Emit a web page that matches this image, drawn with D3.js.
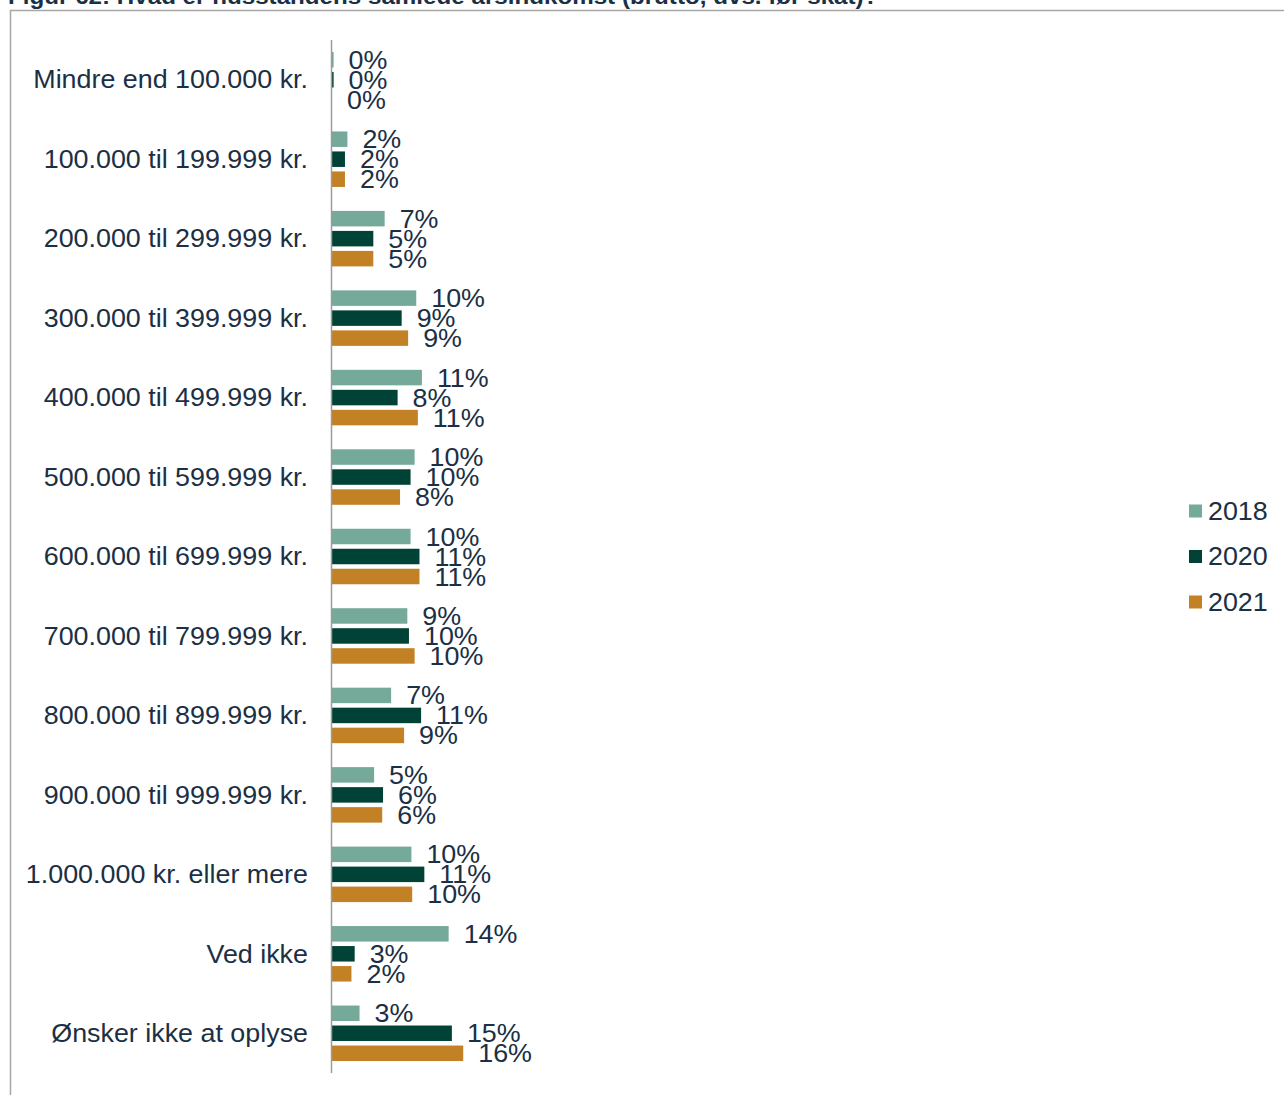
<!DOCTYPE html>
<html>
<head>
<meta charset="utf-8">
<script src="https://cdn.jsdelivr.net/npm/d3@7"></script>
<style>
  body{margin:0;background:#fff;overflow:hidden;}
  svg{display:block;font-family:"Liberation Sans",Arial,sans-serif;}
</style>
</head>
<body>
<div id="chart"></div>
<script>
// data
var categories = ["Mindre end 100.000 kr.","100.000 til 199.999 kr.","200.000 til 299.999 kr.","300.000 til 399.999 kr.","400.000 til 499.999 kr.","500.000 til 599.999 kr.","600.000 til 699.999 kr.","700.000 til 799.999 kr.","800.000 til 899.999 kr.","900.000 til 999.999 kr.","1.000.000 kr. eller mere","Ved ikke","Ønsker ikke at oplyse"];
var years = ["2018","2020","2021"];
var v2018 = [0.2,1.9,6.5,10.4,11.1,10.2,9.7,9.3,7.3,5.2,9.8,14.4,3.4];
var v2020 = [0.2,1.6,5.1,8.6,8.1,9.7,10.8,9.5,11.0,6.3,11.4,2.8,14.8];
var v2021 = [0.0,1.6,5.1,9.4,10.6,8.4,10.8,10.2,8.9,6.2,9.9,2.4,16.2];
var colors = ["#75a99a","#004235","#c38126"];
var title = "Figur 62: Hvad er husstandens samlede årsindkomst (brutto, dvs. før skat)?";

var W = 1284, H = 1095, textCol = "#1b2f45";
var series = [v2018, v2020, v2021];
var sx = 1.075; // teksten er lidt bredere i originalen

var svg = d3.select("#chart").append("svg").attr("width", W).attr("height", H);

function place(x, y){ return "translate(" + x + "," + y + ") scale(" + sx + ",1)"; }

// titel (delvist udenfor billedet)
svg.append("text").attr("transform", place(8, 4))
  .attr("font-size", 22.5).attr("font-weight", "bold").attr("fill", textCol)
  .text(title);

// ramme
svg.append("rect").attr("x", 10.5).attr("y", 10.5).attr("width", 1300).attr("height", 1100)
  .attr("fill", "none").attr("stroke", "#a6a6a6").attr("stroke-width", 1.5);

// skalaer
var y0 = d3.scaleBand().domain(categories).range([40, 1073]);
var y1 = d3.scaleBand().domain(years).range([-30, 30]).paddingInner(0.225).paddingOuter(0.1125);
var x = d3.scaleLinear().domain([0, 100]).range([332, 1142]);

var groups = svg.selectAll("g.cat").data(categories).enter().append("g")
  .attr("class", "cat")
  .attr("transform", function(d){ return "translate(0," + (y0(d) + y0.bandwidth()/2) + ")"; });

groups.append("text")
  .attr("transform", place(308, 0)).attr("dy", "0.35em")
  .attr("text-anchor", "end").attr("font-size", 25).attr("fill", textCol)
  .text(function(d){ return d; });

years.forEach(function(yr, s){
  groups.append("rect")
    .attr("x", x(0))
    .attr("y", y1(yr))
    .attr("width", function(d, i){ return x(series[s][i]) - x(0); })
    .attr("height", y1.bandwidth())
    .attr("fill", colors[s]);
  groups.append("text")
    .attr("transform", function(d, i){ return place(x(series[s][i]) + 15, y1(yr) + y1.bandwidth()/2); })
    .attr("dy", "0.36em")
    .attr("font-size", 25).attr("fill", textCol)
    .text(function(d, i){ return Math.round(series[s][i]) + "%"; });
});

// akse
svg.append("line").attr("x1", 331.5).attr("x2", 331.5).attr("y1", 40).attr("y2", 1073)
  .attr("stroke", "#9c9c9c").attr("stroke-width", 1.5);

// forklaring
var legend = svg.selectAll("g.leg").data(years).enter().append("g")
  .attr("class", "leg")
  .attr("transform", function(d, i){ return "translate(1189," + (511 + i*45.5) + ")"; });
legend.append("rect").attr("x", 0).attr("y", -6.5).attr("width", 13).attr("height", 13)
  .attr("fill", function(d, i){ return colors[i]; });
legend.append("text").attr("transform", place(19, 0)).attr("dy", "0.35em")
  .attr("font-size", 25).attr("fill", textCol)
  .text(function(d){ return d; });
</script>
</body>
</html>
